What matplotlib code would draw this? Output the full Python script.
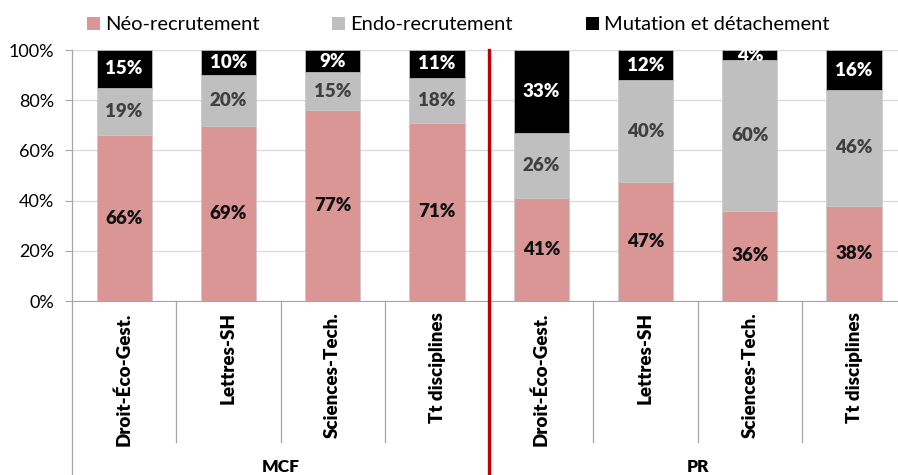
import matplotlib.pyplot as plt
import numpy as np

plt.rcParams['font.family'] = ['Lato', 'DejaVu Sans']

categories = ['Droit-Éco-Gest.', 'Lettres-SH', 'Sciences-Tech.', 'Tt disciplines',
              'Droit-Éco-Gest.', 'Lettres-SH', 'Sciences-Tech.', 'Tt disciplines']
groups = ['MCF', 'PR']
neo = [66, 69, 77, 71, 41, 47, 36, 38]
endo = [19, 20, 15, 18, 26, 40, 60, 46]
mutation = [15, 10, 9, 11, 33, 12, 4, 16]
series_names = ['Néo-recrutement', 'Endo-recrutement', 'Mutation et détachement']

colors = ['#D99694', '#BFBFBF', '#000000']
text_colors = ['#111111', '#404040', '#ffffff']

vals = np.array([neo, endo, mutation], dtype=float)
shares = vals / vals.sum(axis=0)

fig = plt.figure(figsize=(8.98, 4.75), dpi=100)
ax = fig.add_axes([0.0802, 0.3663, 0.929, 0.5284])

x = np.arange(len(categories))
bottom = np.zeros(len(categories))
handles = []
for i in range(3):
    b = ax.bar(x, shares[i], 0.53, bottom=bottom, color=colors[i],
               edgecolor='#C8C8C8', linewidth=0.5, label=series_names[i], zorder=2)
    handles.append(b)
    for j in range(len(categories)):
        ax.text(x[j], bottom[j] + shares[i][j] / 2, '%d%%' % vals[i][j],
                ha='center', va='center', fontsize=13.5, fontweight='heavy',
                color=text_colors[i], clip_on=True, zorder=3)
    bottom += shares[i]

ax.set_xlim(-0.5, len(categories) - 0.5)
ax.set_ylim(0, 1)
ax.set_yticks(np.arange(0, 1.01, 0.2))
ax.set_yticklabels(['%d%%' % round(v * 100) for v in np.arange(0, 1.01, 0.2)], fontsize=13)
ax.yaxis.grid(True, color='#D9D9D9', linewidth=0.9, zorder=0)
ax.set_axisbelow(True)
ax.set_xticks([])
for s in ['top', 'right', 'left']:
    ax.spines[s].set_visible(False)
ax.spines['bottom'].set_color('#A6A6A6')
ax.tick_params(axis='y', length=5, color='#A6A6A6', pad=8)

tr = ax.get_xaxis_transform()
# left axis line down to the bottom of the figure
ax.plot([-0.5, -0.5], [1, -0.7], transform=tr, color='#A6A6A6', lw=0.9, clip_on=False)
# separators between categories
for sep in [0.5, 1.5, 2.5, 4.5, 5.5, 6.5]:
    ax.plot([sep, sep], [0, -0.562], transform=tr, color='#A6A6A6', lw=0.9, clip_on=False)
# red separator between groups
ax.plot([3.5, 3.5], [1, -0.7], transform=tr, color='#C00000', lw=2.4, clip_on=False, zorder=4)

for j, c in enumerate(categories):
    ax.text(x[j], -0.045, c, transform=tr, rotation=90, ha='center', va='top',
            fontsize=13.5, fontweight='heavy')
for g, name in enumerate(groups):
    ax.text(1.5 + 4 * g, -0.66, name, transform=tr, ha='center', va='center',
            fontsize=12.5, fontweight='heavy')

# legend entries placed one by one
for h, name, px in zip(handles, series_names, [87, 332, 586]):
    leg = fig.legend([h], [name], loc='center left', bbox_to_anchor=(px / 898, 1 - 25 / 475),
                     frameon=False, fontsize=14.5, handlelength=0.65, handleheight=0.65,
                     handletextpad=0.25, borderpad=0, borderaxespad=0)
    for p in leg.get_patches():
        p.set_edgecolor('none')

fig.savefig('out.png', dpi=100)
